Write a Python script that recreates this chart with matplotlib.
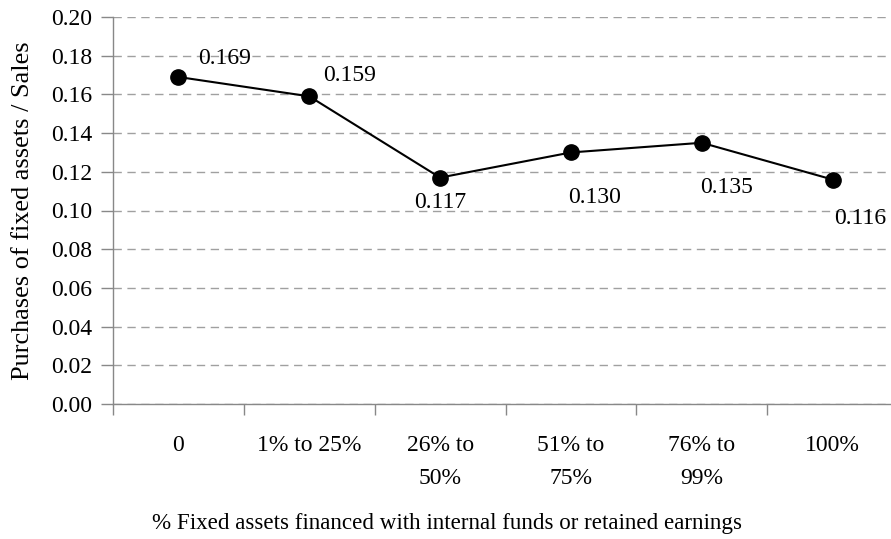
import matplotlib
matplotlib.use("Agg")
import matplotlib.pyplot as plt
from matplotlib.ticker import FixedLocator, MultipleLocator, FormatStrFormatter

categories = ["0", "1% to 25%", "26% to\n50%", "51% to\n75%", "76% to\n99%", "100%"]
values = [0.169, 0.159, 0.117, 0.130, 0.135, 0.116]
value_labels = ["0.169", "0.159", "0.117", "0.130", "0.135", "0.116"]
label_offsets = [(46, 18), (40, 21), (0, -25), (24, -45), (25, -45), (28, -39)]

plt.rcParams['font.family'] = ['Liberation Serif', 'DejaVu Serif']

fig = plt.figure(figsize=(8.91, 5.39), dpi=100)
W, H = 891, 539
L, R, T, B = 113, 898, 17, 404
ax = fig.add_axes([L / W, 1 - B / H, (R - L) / W, (B - T) / H])

x = list(range(len(categories)))
ax.plot(x, values, color='black', linewidth=1.5, marker='o', markersize=11,
        markerfacecolor='black', markeredgecolor='black', zorder=3, clip_on=False)

for xi, v, lab, off in zip(x, values, value_labels, label_offsets):
    ax.annotate(lab, (xi, v), xytext=off, textcoords='offset pixels',
                ha='center', va='center', fontsize=17, color='black')

ax.set_xlim(-0.5, len(categories) - 0.5)
ax.set_ylim(0, 0.20)
ax.yaxis.set_major_locator(MultipleLocator(0.02))
ax.yaxis.set_major_formatter(FormatStrFormatter('%.2f'))

ax.set_xticks(x)
ax.set_xticklabels(categories, fontsize=17)
ax.xaxis.set_minor_locator(FixedLocator([i - 0.5 for i in range(len(categories) + 1)]))
ax.tick_params(axis='x', which='major', length=0, pad=22)
ax.tick_params(axis='x', which='minor', length=8, width=1, color='#888888', direction='out')
ax.tick_params(axis='y', which='major', length=9, width=1, color='#888888',
               direction='out', labelsize=17, pad=6)

for s in ['top', 'right']:
    ax.spines[s].set_visible(False)
for s in ['left', 'bottom']:
    ax.spines[s].set_color('#888888')
    ax.spines[s].set_linewidth(1)

ax.yaxis.grid(True, linestyle=(0, (6, 4)), color='#a0a0a0', linewidth=1)
ax.set_axisbelow(True)

ax.set_ylabel("Purchases of fixed assets / Sales", fontsize=18.9)
ax.yaxis.set_label_coords((23 - L) / (R - L), (B - 211) / (B - T))
ax.yaxis.label.set_va('center')
ax.set_xlabel("% Fixed assets financed with internal funds or retained earnings",
              fontsize=16.6)
ax.xaxis.set_label_coords((447 - L) / (R - L), -(523 - B) / (B - T))
ax.xaxis.label.set_va('center')

fig.canvas.draw()
for lab in ax.get_xticklabels():
    lab.set_linespacing(1.8)

fig.savefig("out.png", dpi=100)
